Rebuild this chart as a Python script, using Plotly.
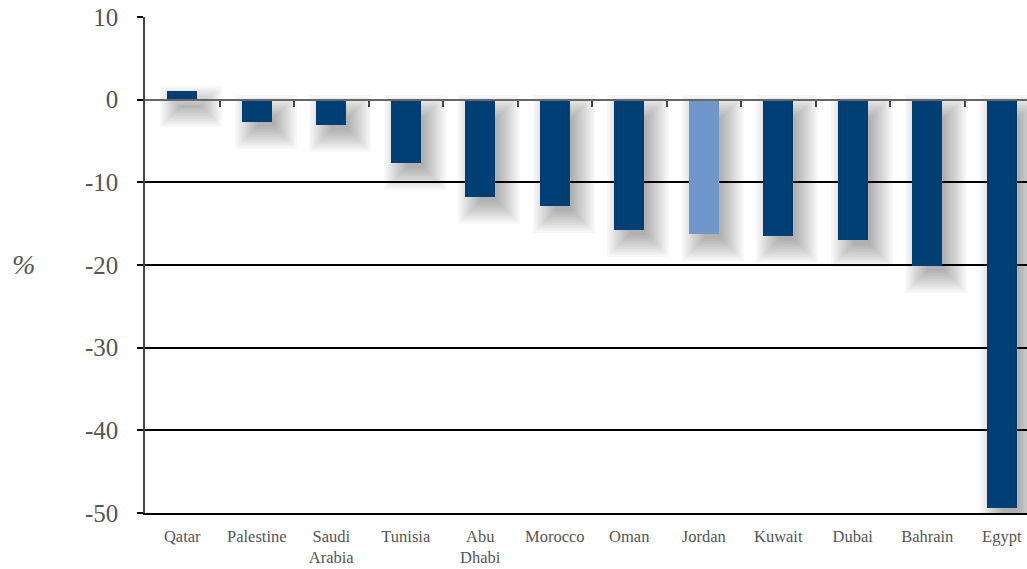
import plotly.graph_objects as go

# ---- data ----
categories = ["Qatar", "Palestine", "Saudi Arabia", "Tunisia", "Abu Dhabi", "Morocco",
              "Oman", "Jordan", "Kuwait", "Dubai", "Bahrain", "Egypt"]
tick_labels = ["Qatar", "Palestine", "Saudi<br>Arabia", "Tunisia", "Abu<br>Dhabi", "Morocco",
               "Oman", "Jordan", "Kuwait", "Dubai", "Bahrain", "Egypt"]
values = [1.1, -2.7, -3.1, -7.7, -11.8, -12.9, -15.8, -16.2, -16.5, -17.0, -20.1, -49.4]
highlight = "Jordan"
y_ticks = [10, 0, -10, -20, -30, -40, -50]

# ---- style ----
DARK = "#003f73"
LIGHT = "#6f97cb"
TEXT = "#555555"
FONT = "Liberation Serif"
W, H = 1027, 569
ML, MT, MB = 145, 17, 56
YMIN, YMAX = -50, 10
CAT_PX = 74.5
BAR_W = 0.40

plot_w = W - ML
plot_h = H - MT - MB
XMIN = -0.5
XMAX = XMIN + plot_w / CAT_PX
px_x = (XMAX - XMIN) / plot_w      # data units per pixel (x)
px_y = (YMAX - YMIN) / plot_h      # data units per pixel (y)

colors = [LIGHT if c == highlight else DARK for c in categories]

fig = go.Figure()

# soft drop shadow (layers of translucent offset bars)
dx, dy = 9, 11
for e in range(16, -8, -2):
    a = 0.028
    bases = [min(0, v) - (dy + e) * px_y for v in values]
    heights = [abs(v) + 2 * e * px_y for v in values]
    fig.add_trace(go.Bar(
        x=categories, y=heights, base=bases,
        width=BAR_W + 2 * e * px_x,
        offset=-(BAR_W / 2) - e * px_x + dx * px_x,
        marker=dict(color=f"rgba(0,0,0,{a})", line=dict(width=0)),
        hoverinfo="skip", showlegend=False,
    ))

fig.add_trace(go.Bar(
    x=categories, y=values, width=BAR_W, offset=-BAR_W / 2,
    marker=dict(color=colors, line=dict(width=0)),
    showlegend=False,
))

# helper trace for the zero-line axis with category-boundary ticks
fig.add_trace(go.Scatter(x=[], y=[], xaxis="x2", yaxis="y", mode="lines",
                         showlegend=False, hoverinfo="skip"))

zero_pos = (0 - YMIN) / (YMAX - YMIN)

fig.update_layout(
    width=W, height=H,
    margin=dict(l=ML, r=0, t=MT, b=MB),
    plot_bgcolor="white", paper_bgcolor="white",
    barmode="overlay",
    bargap=0,
    font=dict(family=FONT, color=TEXT),
    xaxis=dict(
        type="category", categoryorder="array", categoryarray=categories,
        range=[XMIN, XMAX], automargin=False,
        tickmode="array", tickvals=categories, ticktext=tick_labels,
        tickfont=dict(family=FONT, size=16.5, color=TEXT),
        showgrid=False, zeroline=False,
        showline=True, linecolor="black", linewidth=2,
        ticks="", ticklabelstandoff=7,
    ),
    xaxis2=dict(
        overlaying="x", anchor="free", position=zero_pos, side="bottom",
        range=[XMIN, XMAX], type="linear", automargin=False,
        tickmode="array", tickvals=[i + 0.5 for i in range(len(categories))],
        showticklabels=False, ticks="outside", ticklen=6, tickwidth=1.5, tickcolor="#444",
        showline=True, linecolor="#666666", linewidth=2,
        showgrid=False, zeroline=False,
    ),
    yaxis=dict(
        range=[YMIN, YMAX], automargin=False,
        tickmode="array", tickvals=y_ticks, ticktext=[str(t) for t in y_ticks],
        tickfont=dict(family=FONT, size=25, color=TEXT),
        showgrid=True, gridcolor="black", gridwidth=1.5,
        zeroline=False,
        showline=True, linecolor="#444444", linewidth=1.5,
        ticks="outside", ticklen=6, tickwidth=1.5, tickcolor="black",
        ticklabelstandoff=14,
    ),
    annotations=[dict(
        text="<i>%</i>", xref="paper", yref="paper", x=-(ML - 23) / plot_w, y=(H - MB - 264) / plot_h,
        xanchor="center", yanchor="middle", showarrow=False,
        font=dict(family=FONT, size=28, color=TEXT),
    )],
)

fig.write_html("out.html")
